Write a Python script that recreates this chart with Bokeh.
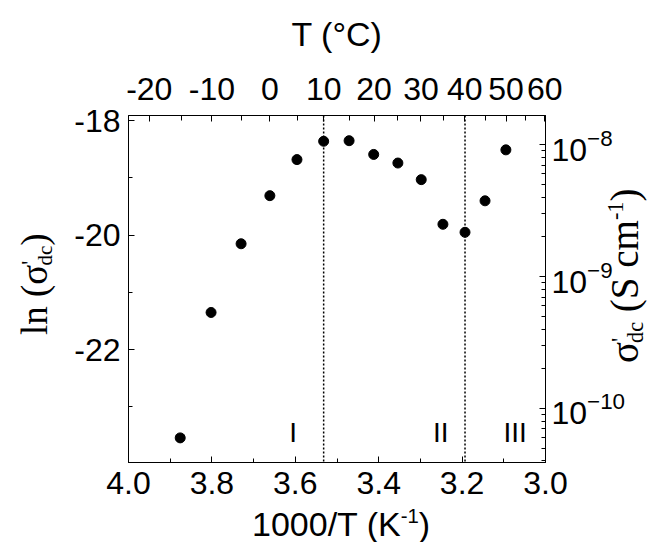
import math
from bokeh.plotting import figure
from bokeh.models import (Range1d, LinearAxis, LogAxis, LogScale, FixedTicker,
                          SingleIntervalTicker, CustomJSTickFormatter, PrintfTickFormatter,
                          LogTickFormatter, Span, Label, Div, GridBox)
from bokeh.embed import file_html
from bokeh.resources import INLINE

# ---------------- data ----------------
inv_T = [3.876, 3.802, 3.730, 3.661, 3.596, 3.532, 3.471, 3.412, 3.354, 3.298,
         3.246, 3.193, 3.145, 3.095]                      # 1000/T (K^-1)
ln_sigma = [-23.54, -21.35, -20.15, -19.31, -18.68, -18.36, -18.35, -18.59,
            -18.74, -19.03, -19.81, -19.95, -19.40, -18.51]   # ln(sigma'_dc)
T_major = [-20, -10, 0, 10, 20, 30, 40, 50, 60]           # top axis labels (deg C)
T_minor = [-20, -15, -10, -5, 0, 5, 10, 15, 20, 25, 30, 35, 40, 45, 50, 55, 60]
region_bounds = [3.532, 3.193]                            # dotted lines (10 C, 40 C)
region_names = ["I", "II", "III"]
region_label_x = [3.605, 3.251, 3.073]
region_label_y = -23.45
sigma_decades = [1e-10, 1e-9, 1e-8]

X_RANGE = (4.0, 3.0)
Y_RANGE = (-23.97, -17.91)

SANS = "Liberation Sans"
SERIF = "Liberation Serif"
W, H = 649, 542

p = figure(width=W, height=H, output_backend="svg", toolbar_location=None,
           x_range=Range1d(*X_RANGE), y_range=Range1d(*Y_RANGE),
           min_border_left=128, min_border_right=104, min_border_top=115,
           min_border_bottom=80)
p.xgrid.visible = False
p.ygrid.visible = False
p.outline_line_color = "black"
p.outline_line_width = 1
p.background_fill_alpha = 0
p.border_fill_alpha = 0


def style(ax, standoff):
    ax.major_tick_in = 6
    ax.major_tick_out = 0
    ax.minor_tick_in = 4
    ax.minor_tick_out = 0
    ax.axis_line_color = "black"
    ax.major_tick_line_color = "black"
    ax.minor_tick_line_color = "black"
    ax.major_label_text_font = SANS
    ax.major_label_text_font_size = "32px"
    ax.major_label_text_color = "black"
    ax.major_label_standoff = standoff


# bottom axis
xa = p.xaxis[0]
xa.ticker = SingleIntervalTicker(interval=0.2, num_minor_ticks=2)
xa.formatter = PrintfTickFormatter(format="%.1f")
style(xa, 9)

# left axis
ya = p.yaxis[0]
ya.ticker = SingleIntervalTicker(interval=2, num_minor_ticks=2)
ya.formatter = PrintfTickFormatter(format="%d")
style(ya, 8)

# top axis: temperature in deg C placed at 1000/(T+273.15)
top_ticks = [1000.0 / (t + 273.15) for t in T_major]
top_minor = [1000.0 / (t + 273.15) for t in T_minor]
ta = LinearAxis(ticker=FixedTicker(ticks=top_ticks, minor_ticks=top_minor),
                formatter=CustomJSTickFormatter(code="return String(Math.round(1000/tick - 273.15));"),
                axis_label="T (°C)")
style(ta, 16)
ta.minor_tick_in = 5
ta.axis_label_text_font = SANS
ta.axis_label_text_font_size = "34px"
ta.axis_label_text_font_style = "normal"
ta.axis_label_text_color = "black"
ta.axis_label_standoff = 22
p.add_layout(ta, "above")

# right axis: sigma'_dc on log scale (= exp of left axis)
p.extra_y_ranges = {"sig": Range1d(math.exp(Y_RANGE[0]), math.exp(Y_RANGE[1]))}
p.extra_y_scales = {"sig": LogScale()}
sig_minor = [k * 10.0 ** e for e in (-11, -10, -9, -8) for k in range(2, 10)]
ra = LogAxis(y_range_name="sig",
             ticker=FixedTicker(ticks=sigma_decades, minor_ticks=sig_minor),
             formatter=LogTickFormatter())
style(ra, 6)
p.add_layout(ra, "right")

# data points
p.scatter(inv_T, ln_sigma, size=10, color="black")

# region boundaries
for b in region_bounds:
    p.add_layout(Span(location=b, dimension="height", line_color="black",
                      line_dash="2 2", line_width=1.5))

for name, x in zip(region_names, region_label_x):
    p.add_layout(Label(x=x, y=region_label_y, text=name, text_align="center",
                       text_baseline="middle", text_font=SANS, text_font_size="28px",
                       text_color="black"))


# ---------- axis titles with sub/superscripts (HTML layer under the plot) ----------
def block(left, top, html, font, size, rotate=False):
    tr = "transform:rotate(-90deg);transform-origin:0 0;" if rotate else ""
    return (f'<div style="position:absolute;left:{left}px;top:{top}px;{tr}'
            f"font-family:'{font}';font-size:{size}px;line-height:1;"
            f'white-space:nowrap;color:black;">{html}</div>')


PRIME = '<span style="position:relative;top:-0.45em;font-size:0.6em;margin-right:-0.22em">\'</span>'
SUB_DC = '<span style="position:relative;top:0.22em;font-size:0.57em">dc</span>'
SUP_M1 = '<span style="position:relative;top:-0.66em;font-size:0.57em">-1</span>'
SUP_M1_SANS = '<span style="position:relative;top:-0.65em;font-size:0.6em">-1</span>'

left_title = block(42 - 31, 330, "ln (σ" + PRIME + SUB_DC + ")", SERIF, 37, True)
right_title = block(632 - 32, 358, "σ" + PRIME + SUB_DC + " (S cm" + SUP_M1 + ")",
                    SERIF, 39, True)
bottom_title = block(247, 531 - 29, "1000/T (K" + SUP_M1_SANS + ")", SANS, 34)

titles = Div(text=f'<div style="position:relative;width:{W}px;height:{H}px;">'
                  f'{left_title}{right_title}{bottom_title}</div>',
             width=W, height=H)

layout = GridBox(children=[(titles, 0, 0), (p, 0, 0)])

open("out.html", "w").write(file_html(layout, INLINE))
